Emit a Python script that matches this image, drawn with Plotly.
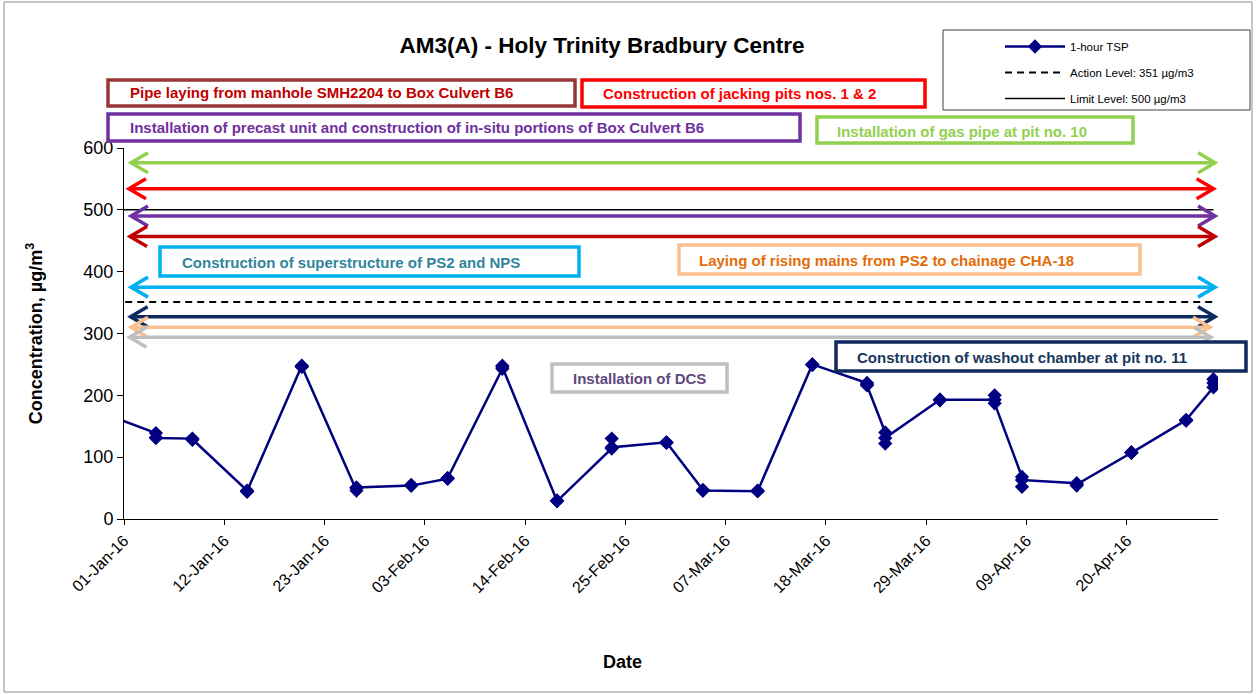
import plotly.graph_objects as go
import pandas as pd

# ---------------- data ----------------
sample_dates = ["2015-12-29", "2016-01-04", "2016-01-08", "2016-01-14", "2016-01-20", "2016-01-26",
                "2016-02-01", "2016-02-05", "2016-02-11", "2016-02-17", "2016-02-23", "2016-02-29",
                "2016-03-04", "2016-03-10", "2016-03-16", "2016-03-22", "2016-03-24", "2016-03-30",
                "2016-04-05", "2016-04-08", "2016-04-14", "2016-04-20", "2016-04-26", "2016-04-29"]
reading_1 = [175, 139, 130, 46, 248, 46, 54, 65, 243, 29, 114, 124, 47, 45, 250, 220, 140, 193, 193, 68, 58, 107, 160, 213]
reading_2 = [170, 132, 128, 44, 246, 50, 55, 66, 248, 30, 130, 123, 46, 46, 249, 218, 122, 192, 200, 52, 54, 108, 159, 226]
reading_3 = [172, 131, 129, 45, 247, 51, 54, 66, 246, 29, 116, 124, 46, 45, 250, 216, 131, 193, 187, 63, 56, 107, 160, 220]

action_level = 351
limit_level = 500

tick_dates = ["2016-01-01", "2016-01-12", "2016-01-23", "2016-02-03", "2016-02-14", "2016-02-25",
              "2016-03-07", "2016-03-18", "2016-03-29", "2016-04-09", "2016-04-20"]
tick_labels = ["01-Jan-16", "12-Jan-16", "23-Jan-16", "03-Feb-16", "14-Feb-16", "25-Feb-16",
               "07-Mar-16", "18-Mar-16", "29-Mar-16", "09-Apr-16", "20-Apr-16"]

# construction activities (arrow levels drawn across the chart)
activity_names = ["Installation of gas pipe at pit no. 10",
                  "Construction of jacking pits nos. 1 & 2",
                  "Installation of precast unit and construction of in-situ portions of Box Culvert B6",
                  "Pipe laying from manhole SMH2204 to Box Culvert B6",
                  "Construction of superstructure of PS2 and NPS",
                  "Construction of washout chamber at pit no. 11",
                  "Laying of rising mains from PS2 to chainage CHA-18",
                  "Installation of DCS"]
arrow_levels = [576, 534, 490, 457, 375, 327, 310, 294]

# ---------------- styling / layout ----------------
FONT = "Arial, 'Liberation Sans', sans-serif"
arrow_colors = ["#92D050", "#FF0000", "#7030A0", "#C00000", "#00B0F0", "#0F2A5E", "#FAC090", "#BFBFBF"]
arrow_ends = [(0.0064, 0.9973), (0.0045, 0.9960), (0.0064, 0.9973), (0.0055, 0.9973),
              (0.0064, 0.9973), (0.0060, 0.9973), (0.0064, 0.9927), (0.0050, 0.9936)]

# text boxes: (x0, y0, x1, y1) px, text x px, text y px, text colour, border colour
box_specs = {
    "Pipe laying from manhole SMH2204 to Box Culvert B6": ((108, 80, 575, 106), 128, 93, "#C00000", "#953735"),
    "Construction of jacking pits nos. 1 & 2": ((582, 80, 925, 107), 601, 94, "#FF0000", "#FF0000"),
    "Installation of precast unit and construction of in-situ portions of Box Culvert B6": ((108, 114, 800, 141), 128, 128, "#7030A0", "#7030A0"),
    "Installation of gas pipe at pit no. 10": ((817, 117, 1133, 143), 835, 131, "#92D050", "#92D050"),
    "Construction of superstructure of PS2 and NPS": ((160, 247, 579, 276), 180, 262, "#31859C", "#00B0F0"),
    "Laying of rising mains from PS2 to chainage CHA-18": ((679, 245, 1140, 274), 697, 260, "#E36C09", "#FAC090"),
    "Construction of washout chamber at pit no. 11": ((836, 342, 1246, 371), 855, 357, "#17375E", "#0F2A5E"),
    "Installation of DCS": ((552, 364, 727, 392), 571, 378, "#604A7B", "#BFBFBF"),
}

W, H = 1256, 694
PL, PR, PT, PB = 124, 1218, 148, 519


def px(xp):
    return (xp - PL) / (PR - PL)


def py(yp):
    return (PB - yp) / (PB - PT)


# ---------------- build series ----------------
xs, ys = [], []
for d, a, b, c in zip(sample_dates, reading_1, reading_2, reading_3):
    t = pd.Timestamp(d) + pd.Timedelta(hours=12)
    for v in (a, b, c):
        xs.append(t)
        ys.append(v)

fig = go.Figure()
fig.add_trace(go.Scatter(
    x=xs, y=ys, mode="lines+markers", name="1-hour TSP", legendgroup="a",
    line=dict(color="#000080", width=2.5),
    marker=dict(symbol="diamond", size=11, color="#000080"),
))
fig.add_trace(go.Scatter(
    x=[xs[0], xs[-1]], y=[action_level, action_level], mode="lines",
    name="Action Level: 351 µg/m3", legendgroup="b",
    line=dict(color="black", width=2, dash="7px,5px"),
))
fig.add_trace(go.Scatter(
    x=[xs[0], xs[-1]], y=[limit_level, limit_level], mode="lines",
    name="Limit Level: 500 µg/m3", legendgroup="c",
    line=dict(color="black", width=1.5),
))

shapes = []
# outer chart border
shapes.append(dict(type="rect", xref="paper", yref="paper",
                   x0=px(4), x1=px(1252), y0=py(692), y1=py(2),
                   line=dict(color="#8C8C8C", width=1), fillcolor="rgba(0,0,0,0)", layer="below"))
# legend box
shapes.append(dict(type="rect", xref="paper", yref="paper",
                   x0=px(943), x1=px(1250), y0=py(110), y1=py(30),
                   line=dict(color="#404040", width=1), fillcolor="white", layer="below"))

# double-headed arrows
for lvl, col, (e0, e1) in zip(arrow_levels, arrow_colors, arrow_ends):
    shapes.append(dict(type="line", xref="x domain", yref="y", x0=e0, x1=e1, y0=lvl, y1=lvl,
                       line=dict(color=col, width=3.5)))
    shapes.append(dict(type="path", xref="x domain", yref="y", xsizemode="pixel", ysizemode="pixel",
                       xanchor=e1, yanchor=lvl, path="M -17,10 L 0,0 L -17,-10",
                       line=dict(color=col, width=3.5)))
    shapes.append(dict(type="path", xref="x domain", yref="y", xsizemode="pixel", ysizemode="pixel",
                       xanchor=e0, yanchor=lvl, path="M 17,10 L 0,0 L 17,-10",
                       line=dict(color=col, width=3.5)))

annotations = []
for name in activity_names:
    (x0, y0, x1, y1), tx, ty, tcol, bcol = box_specs[name]
    shapes.append(dict(type="rect", xref="paper", yref="paper",
                       x0=px(x0), x1=px(x1), y0=py(y1), y1=py(y0),
                       line=dict(color=bcol, width=3.5), fillcolor="white"))
    annotations.append(dict(xref="paper", yref="paper", x=px(tx), y=py(ty),
                            xanchor="left", yanchor="middle", showarrow=False,
                            text="<b>" + name + "</b>",
                            font=dict(family=FONT, size=15, color=tcol)))

annotations.append(dict(xref="paper", yref="paper", x=px(622), y=py(662),
                        xanchor="center", yanchor="middle", showarrow=False,
                        text="<b>Date</b>", font=dict(family=FONT, size=18, color="black")))

fig.update_layout(
    width=W, height=H,
    margin=dict(l=PL, r=W - PR, t=PT, b=H - PB),
    paper_bgcolor="white", plot_bgcolor="white",
    font=dict(family=FONT, color="black"),
    title=dict(text="<b>AM3(A) - Holy Trinity Bradbury Centre</b>",
               x=602 / W, xanchor="center", y=1 - 45 / H, yanchor="middle",
               font=dict(family=FONT, size=22.5, color="black")),
    xaxis=dict(type="date", range=["2016-01-01", "2016-04-30"],
               tickvals=tick_dates, ticktext=tick_labels, tickangle=-45,
               ticks="outside", ticklen=5, tickcolor="black",
               showline=True, linecolor="black", linewidth=1,
               showgrid=False, zeroline=False,
               tickfont=dict(family=FONT, size=16, color="black")),
    yaxis=dict(range=[0, 600], tickvals=[0, 100, 200, 300, 400, 500, 600],
               ticks="outside", ticklen=6, tickcolor="black",
               showline=True, linecolor="black", linewidth=1,
               showgrid=False, zeroline=False,
               tickfont=dict(family=FONT, size=18, color="black"),
               title=dict(text="<b>Concentration, µg/m<sup>3</sup></b>",
                          font=dict(family=FONT, size=18, color="black"), standoff=36)),
    legend=dict(x=px(1000), y=py(32), xanchor="left", yanchor="top",
                bgcolor="rgba(0,0,0,0)", borderwidth=0, itemwidth=60,
                tracegroupgap=7, font=dict(family=FONT, size=11.5, color="black")),
    shapes=shapes,
    annotations=annotations,
)

fig.write_html("out.html", config={"displayModeBar": False},
               post_script="document.body.style.margin='0';document.body.style.overflow='hidden';")
